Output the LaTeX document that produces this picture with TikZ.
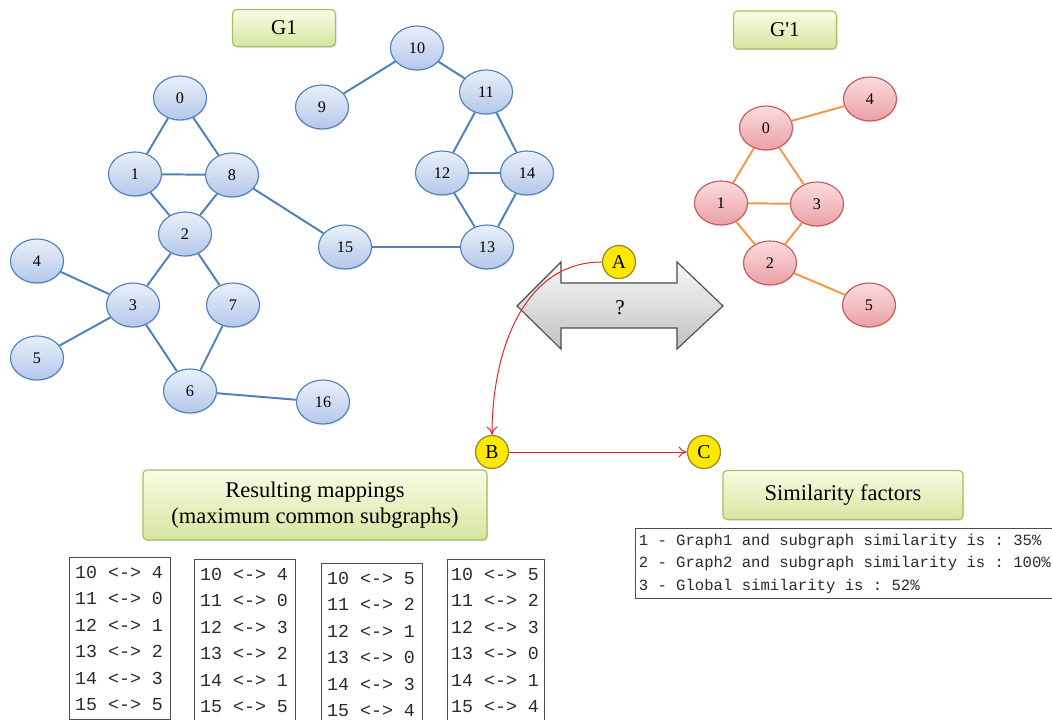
\documentclass[tikz,border=0pt]{standalone}
\usepackage{fontspec}
\setmainfont{Liberation Serif}
\setmonofont{Liberation Mono}
\usepackage{xcolor}
\usetikzlibrary{arrows,arrows.meta,shapes,shadows}

\definecolor{bluedge}{RGB}{79,129,189}
\definecolor{bluetop}{RGB}{234,240,250}
\definecolor{bluebot}{RGB}{180,199,233}
\definecolor{pinkedge}{RGB}{200,90,95}
\definecolor{pinktop}{RGB}{251,220,222}
\definecolor{pinkbot}{RGB}{234,160,166}
\definecolor{orangeedge}{RGB}{245,152,70}
\definecolor{boxedge}{RGB}{165,192,95}
\definecolor{boxtop}{RGB}{250,252,228}
\definecolor{boxbot}{RGB}{214,229,160}
\definecolor{stepfill}{RGB}{255,232,0}
\definecolor{stepedge}{RGB}{150,138,40}
\definecolor{redarrow}{RGB}{232,35,35}
\definecolor{monotext}{RGB}{45,40,40}

\newcommand{\monospc}{\spaceskip=0.6em\xspaceskip=0.6em\relax}

\begin{document}
\begin{tikzpicture}[x=0.025cm, y=-0.025cm]
	\tikzstyle{vblue}
	  =[ellipse, draw=bluedge, line width=0.8pt, top color=bluetop,
	  bottom color=bluebot, minimum width=1.325cm, minimum height=1.1cm,
	  inner sep=0pt, font=\fontsize{11.5}{12}\selectfont,
	  drop shadow={opacity=0.18, shadow xshift=0.6pt, shadow yshift=-0.9pt}]
	\tikzstyle{vpink}
	  =[vblue, draw=pinkedge, top color=pinktop, bottom color=pinkbot]
	\tikzstyle{eblue}
	  =[draw=bluedge, line width=1.4pt]
	\tikzstyle{eorange}
	  =[draw=orangeedge, line width=1.4pt]
	\tikzstyle{lbl}
	  =[rectangle, rounded corners=3pt, draw=boxedge, line width=0.8pt,
	  top color=boxtop, bottom color=boxbot, align=center,
	  drop shadow={opacity=0.2, shadow xshift=0.8pt, shadow yshift=-1pt}]
	\tikzstyle{stepcirc}
	  =[circle, draw=stepedge, line width=0.9pt, fill=stepfill,
	  minimum size=0.825cm, inner sep=0pt, font=\fontsize{14}{14}\selectfont]
	\tikzstyle{maptab}
	  =[rectangle, draw=black!70, line width=0.8pt, anchor=north west,
	  align=left, text width=2.25cm, inner xsep=0.14cm, minimum height=4.05cm,
	  text=monotext, font=\fontsize{13}{18.8}\selectfont\ttfamily,
	  execute at begin node=\monospc]
	\tikzstyle{redline}
	  =[draw=redarrow, line width=0.7pt, -{To[length=6pt, width=8pt]}]

	\useasboundingbox (0,0) rectangle (1052,720);
	\clip (0,0) rectangle (1052,720);

	\node[lbl, minimum width=2.575cm, minimum height=0.925cm,
	  font=\fontsize{15}{15}\selectfont] (g1) at (284,28) {G1};
	\node[lbl, minimum width=2.575cm, minimum height=0.95cm,
	  font=\fontsize{15}{15}\selectfont] (g1p) at (785,30)
	  {G\textquotesingle 1};

	\node[vblue] (n0) at (180,98) {0};
	\node[vblue] (n1) at (135,174) {1};
	\node[vblue] (n8) at (232,175) {8};
	\node[vblue] (n2) at (185,234) {2};
	\node[vblue] (n9) at (322,107) {9};
	\node[vblue] (n10) at (417,48) {10};
	\node[vblue] (n11) at (486,92) {11};
	\node[vblue] (n12) at (442,173) {12};
	\node[vblue] (n14) at (527,173) {14};
	\node[vblue] (n13) at (487,247) {13};
	\node[vblue] (n15) at (345,247) {15};
	\node[vblue] (n4) at (37,261) {4};
	\node[vblue] (n3) at (133,305) {3};
	\node[vblue] (n7) at (233,305) {7};
	\node[vblue] (n5) at (37,358) {5};
	\node[vblue] (n6) at (190,391) {6};
	\node[vblue] (n16) at (323,402) {16};

	\draw[eblue] (n0)--(n1);
	\draw[eblue] (n0)--(n8);
	\draw[eblue] (n1)--(n8);
	\draw[eblue] (n1)--(n2);
	\draw[eblue] (n8)--(n2);
	\draw[eblue] (n8)--(n15);
	\draw[eblue] (n2)--(n3);
	\draw[eblue] (n2)--(n7);
	\draw[eblue] (n4)--(n3);
	\draw[eblue] (n5)--(n3);
	\draw[eblue] (n3)--(n6);
	\draw[eblue] (n7)--(n6);
	\draw[eblue] (n6)--(n16);
	\draw[eblue] (n9)--(n10);
	\draw[eblue] (n10)--(n11);
	\draw[eblue] (n11)--(n12);
	\draw[eblue] (n11)--(n14);
	\draw[eblue] (n12)--(n14);
	\draw[eblue] (n12)--(n13);
	\draw[eblue] (n14)--(n13);
	\draw[eblue] (n15)--(n13);

	\node[vpink] (m0) at (766,128) {0};
	\node[vpink] (m4) at (870,99) {4};
	\node[vpink] (m1) at (721,203) {1};
	\node[vpink] (m3) at (817,204) {3};
	\node[vpink] (m2) at (770,263) {2};
	\node[vpink] (m5) at (869,305) {5};

	\draw[eorange] (m0)--(m4);
	\draw[eorange] (m0)--(m1);
	\draw[eorange] (m0)--(m3);
	\draw[eorange] (m1)--(m3);
	\draw[eorange] (m1)--(m2);
	\draw[eorange] (m3)--(m2);
	\draw[eorange] (m2)--(m5);

	\path[draw=black!70, line width=0.8pt, top color=gray!6,
	  bottom color=gray!48]
	  (517,306)--(561,262)--(561,283)--(677,283)--(677,262)
	  --(723,306)--(677,349)--(677,328)--(561,328)--(561,349)--cycle;
	\node[font=\fontsize{15}{15}\selectfont] (qmark) at (620,308) {?};

	\node[stepcirc] (stepA) at (619,262) {A};
	\node[stepcirc] (stepB) at (492,452) {B};
	\node[stepcirc] (stepC) at (704,452) {C};

	\draw[redline] (stepA.west) to[out=180, in=90] (stepB.north);
	\draw[redline] (stepB.east)--(stepC.west);

	\node[lbl, minimum width=8.6cm, minimum height=1.75cm,
	  font=\fontsize{16}{19}\selectfont] (mappings) at (315,505)
	  {Resulting mappings\\(maximum common subgraphs)};
	\node[lbl, minimum width=6cm, minimum height=1.225cm,
	  font=\fontsize{16}{16}\selectfont] (simfact) at (843,495)
	  {Similarity factors};

	\node[maptab] (map1) at (69,557)
	  {10 <-> 4\\11 <-> 0\\12 <-> 1\\13 <-> 2\\14 <-> 3\\15 <-> 5};
	\node[maptab] (map2) at (194,559)
	  {10 <-> 4\\11 <-> 0\\12 <-> 3\\13 <-> 2\\14 <-> 1\\15 <-> 5};
	\node[maptab] (map3) at (321,563)
	  {10 <-> 5\\11 <-> 2\\12 <-> 1\\13 <-> 0\\14 <-> 3\\15 <-> 4};
	\node[maptab, inner xsep=0.09cm] (map4) at (447,559)
	  {10 <-> 5\\11 <-> 2\\12 <-> 3\\13 <-> 0\\14 <-> 1\\15 <-> 4};

	\node[rectangle, draw=black!70, line width=0.8pt, anchor=north west,
	  align=left, text width=10.9cm, inner xsep=0.08cm, minimum height=1.75cm,
	  text=monotext, font=\fontsize{11.1}{16}\selectfont\ttfamily,
	  execute at begin node=\monospc]
	  (simtext) at (635,528)
	  {1 - Graph1 and subgraph similarity is : 35\%\\
	  2 - Graph2 and subgraph similarity is : 100\%\\
	  3 - Global similarity is : 52\%};
\end{tikzpicture}
\end{document}
